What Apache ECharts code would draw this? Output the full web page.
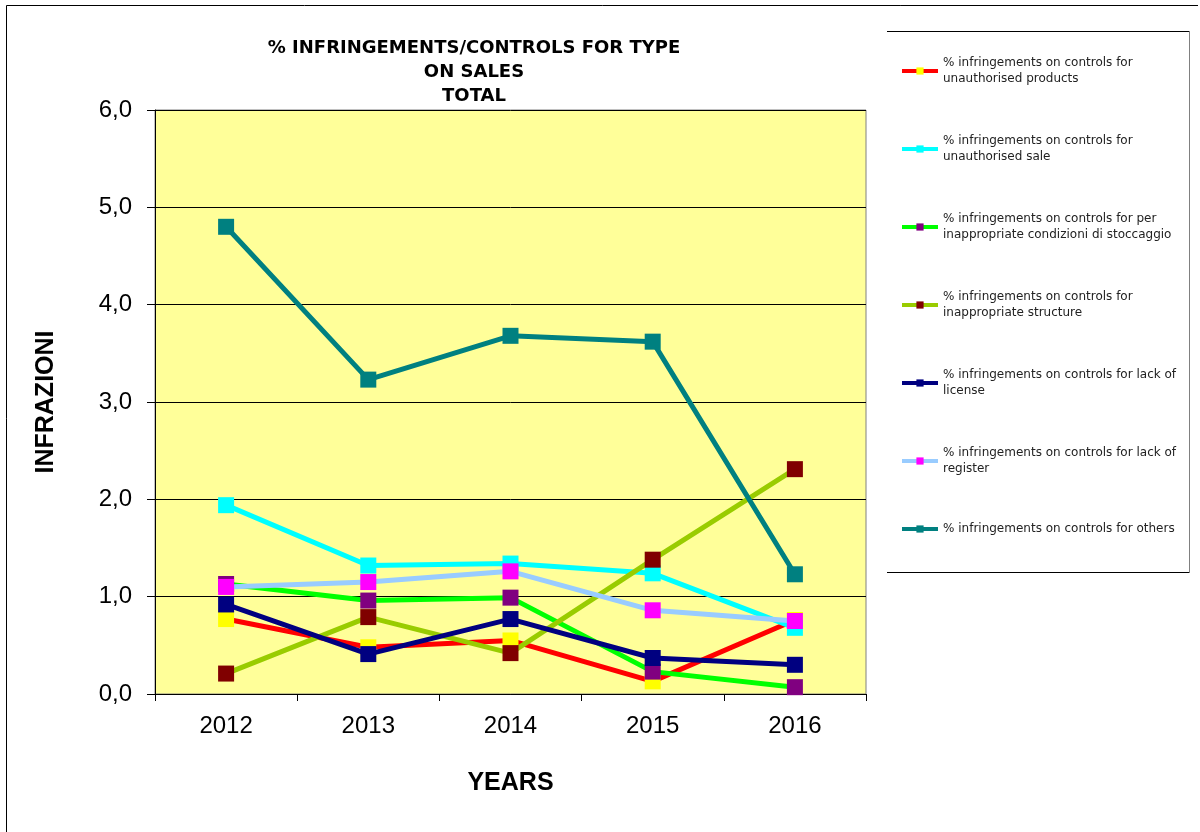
<!DOCTYPE html>
<html>
<head>
<meta charset="utf-8">
<script src="https://cdn.jsdelivr.net/npm/echarts@6/dist/echarts.min.js"></script>
<style>html,body{margin:0;padding:0;background:#fff}#c{width:1200px;height:832px}</style>
</head>
<body>
<div id="c"></div>
<script>
const years = ['2012', '2013', '2014', '2015', '2016'];
const seriesNames = [
  '% infringements on controls for unauthorised products',
  '% infringements on controls for unauthorised sale',
  '% infringements on controls for per inappropriate condizioni di stoccaggio',
  '% infringements on controls for inappropriate structure',
  '% infringements on controls for lack of license',
  '% infringements on controls for lack of register',
  '% infringements on controls for others'
];
const legendLabels = [
  '% infringements on controls for\nunauthorised products',
  '% infringements on controls for\nunauthorised sale',
  '% infringements on controls for per\ninappropriate condizioni di stoccaggio',
  '% infringements on controls for\ninappropriate structure',
  '% infringements on controls for lack of\nlicense',
  '% infringements on controls for lack of\nregister',
  '% infringements on controls for others'
];
const unauthorisedProducts = [0.77, 0.48, 0.55, 0.13, 0.76];
const unauthorisedSale = [1.94, 1.32, 1.34, 1.24, 0.68];
const storage = [1.13, 0.96, 0.99, 0.23, 0.07];
const structure = [0.21, 0.79, 0.42, 1.38, 2.31];
const license = [0.92, 0.41, 0.77, 0.37, 0.30];
const register = [1.10, 1.15, 1.26, 0.86, 0.75];
const others = [4.80, 3.23, 3.68, 3.62, 1.23];
const yTicks = ['0,0', '1,0', '2,0', '3,0', '4,0', '5,0', '6,0'];

const values = [unauthorisedProducts, unauthorisedSale, storage, structure, license, register, others];
const lineColors = ['#FF0000', '#00FFFF', '#00FF00', '#99CC00', '#000080', '#99CCFF', '#008080'];
const markColors = ['#FFFF00', '#00FFFF', '#800080', '#800000', '#000080', '#FF00FF', '#008080'];

const chart = echarts.init(document.getElementById('c'), null, {renderer: 'canvas'});
const series = values.map((v, i) => ({
  name: seriesNames[i],
  type: 'line',
  data: v,
  symbol: 'rect',
  symbolSize: 16,
  z: 2 + i,
  lineStyle: {color: lineColors[i], width: 5},
  itemStyle: {color: markColors[i], borderWidth: 0},
  emphasis: {disabled: true},
  animation: false
}));

const labelMap = {};
seriesNames.forEach((n, i) => labelMap[n] = legendLabels[i]);

chart.setOption({
  backgroundColor: '#ffffff',
  animation: false,
  title: {
    text: '% INFRINGEMENTS/CONTROLS FOR TYPE\nON SALES\nTOTAL',
    left: 469, top: 31, textAlign: 'center',
    textStyle: {fontFamily: 'DejaVu Sans', fontSize: 18, fontWeight: 'bold', color: '#000', lineHeight: 24}
  },
  legend: {
    orient: 'vertical',
    left: 900, top: 47,
    padding: 0,
    itemWidth: 36, itemHeight: 9,
    itemGap: 30,
    lineStyle: {width: 4},
    data: seriesNames.map((n, i) => ({
      name: n,
      textStyle: i < 6 ? {padding: [16, 0, 0, 0]} : {padding: [6, 0, 6, 0]}
    })),
    formatter: n => labelMap[n],
    textStyle: {fontFamily: 'DejaVu Sans', fontSize: 12, color: '#222', lineHeight: 16, padding: [16, 0, 0, 0]},
    selectedMode: false
  },
  grid: {left: 155, right: 334, top: 110, bottom: 138, show: true, backgroundColor: '#FFFF99', borderColor: '#808080', borderWidth: 1},
  xAxis: {
    type: 'category',
    data: years,
    boundaryGap: true,
    name: 'YEARS', nameLocation: 'middle', nameGap: 77,
    nameTextStyle: {fontFamily: 'Liberation Sans, Arial', fontSize: 25, fontWeight: 'bold', color: '#000'},
    axisLine: {lineStyle: {color: '#000', width: 1}},
    axisTick: {show: true, length: 7, lineStyle: {color: '#000'}},
    axisLabel: {fontFamily: 'Liberation Sans, Arial', fontSize: 24, color: '#000', margin: 20}
  },
  yAxis: {
    type: 'value',
    min: 0, max: 6, interval: 1,
    name: 'INFRAZIONI', nameLocation: 'middle', nameGap: 96, nameRotate: 90,
    nameTextStyle: {fontFamily: 'Liberation Sans, Arial', fontSize: 25, fontWeight: 'bold', color: '#000'},
    axisLine: {show: true, lineStyle: {color: '#000', width: 1}},
    axisTick: {show: true, length: 8, lineStyle: {color: '#000'}},
    axisLabel: {fontFamily: 'Liberation Sans, Arial', fontSize: 24, color: '#000', margin: 23,
      formatter: v => yTicks[Math.round(v)]},
    splitLine: {show: true, lineStyle: {color: '#000', width: 1}}
  },
  graphic: [
    {type: 'line', shape: {x1: 6.5, y1: 5.5, x2: 6.5, y2: 832}, style: {stroke: '#000', lineWidth: 1}},
    {type: 'line', shape: {x1: 6.5, y1: 5.5, x2: 1198, y2: 5.5}, style: {stroke: '#000', lineWidth: 1}},
    {type: 'line', shape: {x1: 887, y1: 31.5, x2: 1189, y2: 31.5}, style: {stroke: '#000', lineWidth: 1}},
    {type: 'line', shape: {x1: 887, y1: 572.5, x2: 1189, y2: 572.5}, style: {stroke: '#000', lineWidth: 1}},
    {type: 'line', shape: {x1: 1189.5, y1: 31, x2: 1189.5, y2: 573}, style: {stroke: '#808080', lineWidth: 1}}
  ],
  series: series
});
</script>
</body>
</html>
